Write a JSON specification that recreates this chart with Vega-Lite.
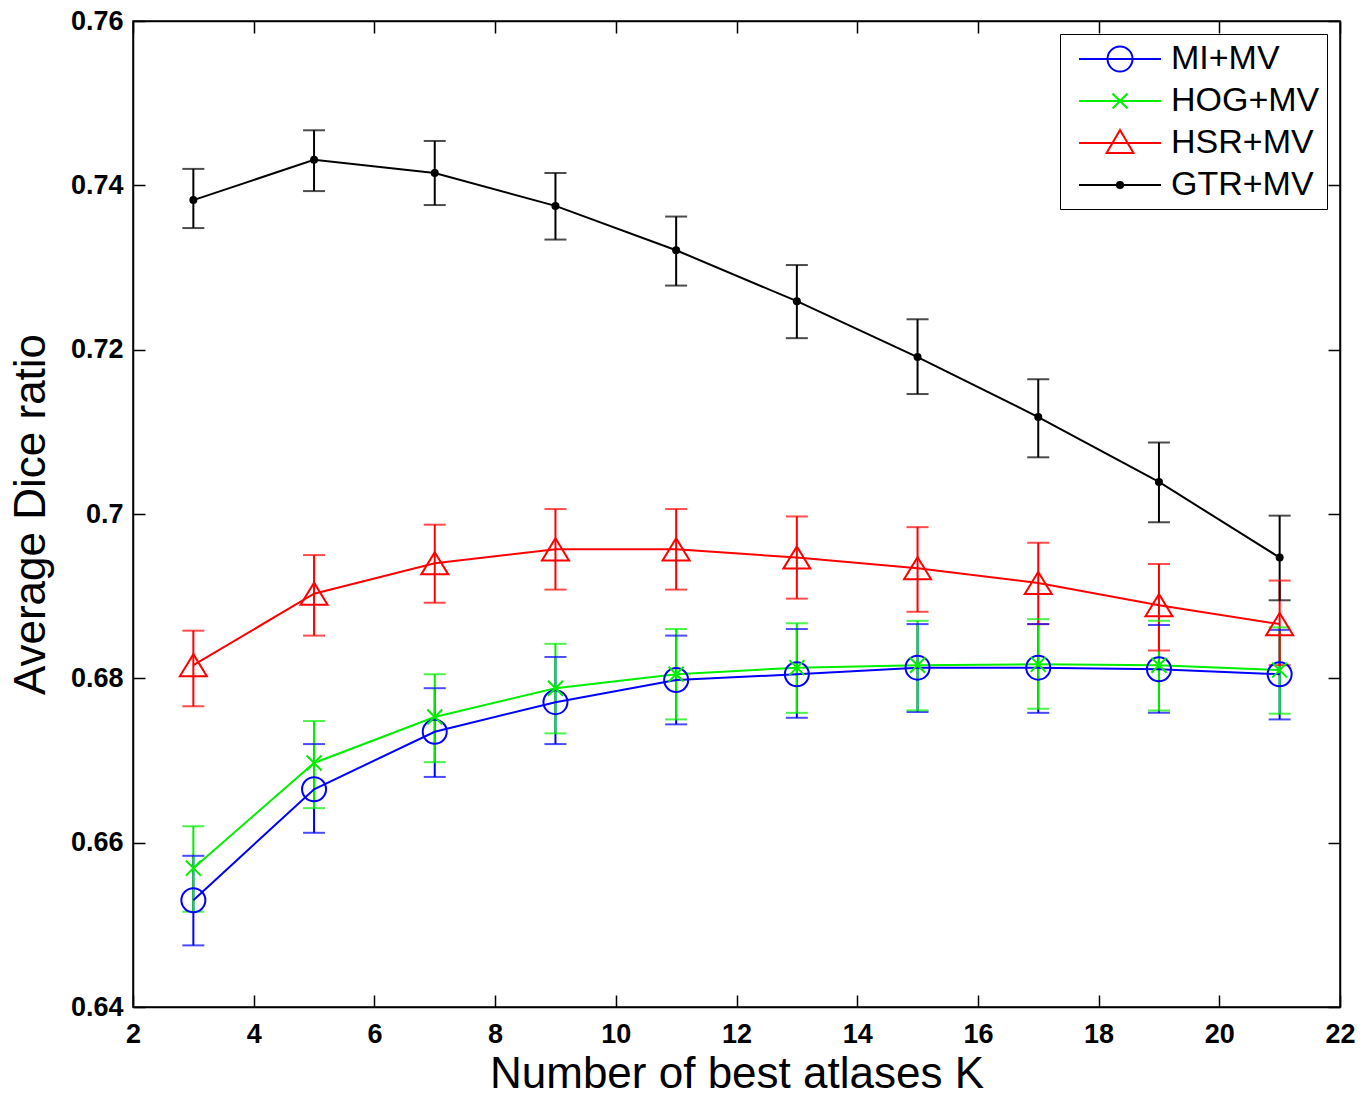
{
  "$schema": "https://vega.github.io/schema/vega-lite/v6.json",
  "width": 1207,
  "height": 986,
  "autosize": {"type": "none"},
  "padding": {"left": 133, "top": 21, "right": 32, "bottom": 89},
  "background": "white",
  "config": {
    "view": {"stroke": "#000", "strokeWidth": 1.5},
    "font": "Liberation Sans",
    "axis": {
      "grid": false,
      "domainColor": "#000",
      "domainWidth": 1.5,
      "tickColor": "#000",
      "tickWidth": 1.5,
      "tickSize": -12,
      "labelColor": "#000",
      "labelFont": "Liberation Sans",
      "labelFontSize": 27,
      "labelFontWeight": "bold",
      "labelFlush": false,
      "titleColor": "#000",
      "titleFont": "Liberation Sans",
      "titleFontSize": 44,
      "titleFontWeight": "normal"
    }
  },
  "data": {
    "values": [
      {"series": "MI+MV", "K": 3, "mean": 0.6530, "lo": 0.6475, "hi": 0.6584},
      {"series": "MI+MV", "K": 5, "mean": 0.6665, "lo": 0.6612, "hi": 0.6720},
      {"series": "MI+MV", "K": 7, "mean": 0.6735, "lo": 0.6680, "hi": 0.6788},
      {"series": "MI+MV", "K": 9, "mean": 0.6771, "lo": 0.6720, "hi": 0.6826},
      {"series": "MI+MV", "K": 11, "mean": 0.6798, "lo": 0.6744, "hi": 0.6852},
      {"series": "MI+MV", "K": 13, "mean": 0.6805, "lo": 0.6752, "hi": 0.6860},
      {"series": "MI+MV", "K": 15, "mean": 0.6813, "lo": 0.6759, "hi": 0.6866},
      {"series": "MI+MV", "K": 17, "mean": 0.6813, "lo": 0.6758, "hi": 0.6866},
      {"series": "MI+MV", "K": 19, "mean": 0.6811, "lo": 0.6758, "hi": 0.6865},
      {"series": "MI+MV", "K": 21, "mean": 0.6805, "lo": 0.6750, "hi": 0.6859},
      {"series": "HOG+MV", "K": 3, "mean": 0.6569, "lo": 0.6516, "hi": 0.6620},
      {"series": "HOG+MV", "K": 5, "mean": 0.6697, "lo": 0.6642, "hi": 0.6748},
      {"series": "HOG+MV", "K": 7, "mean": 0.6753, "lo": 0.6698, "hi": 0.6805},
      {"series": "HOG+MV", "K": 9, "mean": 0.6788, "lo": 0.6733, "hi": 0.6842},
      {"series": "HOG+MV", "K": 11, "mean": 0.6805, "lo": 0.6750, "hi": 0.6860},
      {"series": "HOG+MV", "K": 13, "mean": 0.6813, "lo": 0.6758, "hi": 0.6867},
      {"series": "HOG+MV", "K": 15, "mean": 0.6816, "lo": 0.6761, "hi": 0.6870},
      {"series": "HOG+MV", "K": 17, "mean": 0.6817, "lo": 0.6763, "hi": 0.6872},
      {"series": "HOG+MV", "K": 19, "mean": 0.6816, "lo": 0.6761, "hi": 0.6870},
      {"series": "HOG+MV", "K": 21, "mean": 0.6810, "lo": 0.6757, "hi": 0.6862},
      {"series": "HSR+MV", "K": 3, "mean": 0.6816, "lo": 0.6766, "hi": 0.6858},
      {"series": "HSR+MV", "K": 5, "mean": 0.6903, "lo": 0.6852, "hi": 0.6950},
      {"series": "HSR+MV", "K": 7, "mean": 0.6940, "lo": 0.6892, "hi": 0.6987},
      {"series": "HSR+MV", "K": 9, "mean": 0.6957, "lo": 0.6908, "hi": 0.7006},
      {"series": "HSR+MV", "K": 11, "mean": 0.6957, "lo": 0.6908, "hi": 0.7006},
      {"series": "HSR+MV", "K": 13, "mean": 0.6947, "lo": 0.6897, "hi": 0.6997},
      {"series": "HSR+MV", "K": 15, "mean": 0.6934, "lo": 0.6881, "hi": 0.6984},
      {"series": "HSR+MV", "K": 17, "mean": 0.6916, "lo": 0.6866, "hi": 0.6965},
      {"series": "HSR+MV", "K": 19, "mean": 0.6889, "lo": 0.6834, "hi": 0.6939},
      {"series": "HSR+MV", "K": 21, "mean": 0.6866, "lo": 0.6816, "hi": 0.6919},
      {"series": "GTR+MV", "K": 3, "mean": 0.7382, "lo": 0.7348, "hi": 0.7420},
      {"series": "GTR+MV", "K": 5, "mean": 0.7431, "lo": 0.7393, "hi": 0.7467},
      {"series": "GTR+MV", "K": 7, "mean": 0.7415, "lo": 0.7376, "hi": 0.7454},
      {"series": "GTR+MV", "K": 9, "mean": 0.7375, "lo": 0.7334, "hi": 0.7415},
      {"series": "GTR+MV", "K": 11, "mean": 0.7321, "lo": 0.7278, "hi": 0.7362},
      {"series": "GTR+MV", "K": 13, "mean": 0.7259, "lo": 0.7214, "hi": 0.7303},
      {"series": "GTR+MV", "K": 15, "mean": 0.7191, "lo": 0.7146, "hi": 0.7237},
      {"series": "GTR+MV", "K": 17, "mean": 0.7118, "lo": 0.7069, "hi": 0.7164},
      {"series": "GTR+MV", "K": 19, "mean": 0.7039, "lo": 0.6990, "hi": 0.7087},
      {"series": "GTR+MV", "K": 21, "mean": 0.6947, "lo": 0.6895, "hi": 0.6998}
    ]
  },
  "layer": [
    {
      "layer": [
        {
          "mark": {"type": "rule", "strokeWidth": 2},
          "encoding": {
            "x": {"field": "K", "type": "quantitative",
              "scale": {"domain": [2, 22], "nice": false, "zero": false},
              "axis": {"orient": "bottom", "values": [2, 4, 6, 8, 10, 12, 14, 16, 18, 20, 22], "format": "d", "labelPadding": 26, "title": "Number of best atlases K", "titlePadding": 5}},
            "y": {"field": "lo", "type": "quantitative",
              "scale": {"domain": [0.64, 0.76], "nice": false, "zero": false},
              "axis": {"orient": "left", "values": [0.64, 0.66, 0.68, 0.7, 0.72, 0.74, 0.76], "format": "~g", "labelPadding": 22, "title": "Average Dice ratio", "titlePadding": 17}},
            "y2": {"field": "hi"},
            "color": {"field": "series", "type": "nominal",
              "scale": {"domain": ["GTR+MV", "HSR+MV", "HOG+MV", "MI+MV"], "range": ["#000000", "#ff0000", "#00ee00", "#0000ff"]},
              "legend": null}
          }
        },
        {
          "mark": {"type": "tick", "orient": "horizontal", "size": 22, "thickness": 2},
          "encoding": {
            "x": {"field": "K", "type": "quantitative"},
            "y": {"field": "lo", "type": "quantitative"},
            "color": {"field": "series", "type": "nominal", "legend": null}
          }
        },
        {
          "mark": {"type": "tick", "orient": "horizontal", "size": 22, "thickness": 2},
          "encoding": {
            "x": {"field": "K", "type": "quantitative"},
            "y": {"field": "hi", "type": "quantitative"},
            "color": {"field": "series", "type": "nominal", "legend": null}
          }
        },
        {
          "mark": {"type": "line", "strokeWidth": 2},
          "encoding": {
            "x": {"field": "K", "type": "quantitative"},
            "y": {"field": "mean", "type": "quantitative"},
            "color": {"field": "series", "type": "nominal", "legend": null}
          }
        },
        {
          "transform": [{"filter": "datum.series === 'MI+MV'"}],
          "mark": {"type": "point", "shape": "M1,0A1,1 0 1 1 -1,0A1,1 0 1 1 1,0", "size": 576, "strokeWidth": 2, "filled": false, "opacity": 1},
          "encoding": {
            "x": {"field": "K", "type": "quantitative"},
            "y": {"field": "mean", "type": "quantitative"},
            "color": {"field": "series", "type": "nominal", "legend": null}
          }
        },
        {
          "transform": [{"filter": "datum.series === 'HOG+MV'"}],
          "mark": {"type": "point", "shape": "M-1,-1L1,1M-1,1L1,-1", "size": 225, "strokeWidth": 2, "filled": false, "opacity": 1},
          "encoding": {
            "x": {"field": "K", "type": "quantitative"},
            "y": {"field": "mean", "type": "quantitative"},
            "color": {"field": "series", "type": "nominal", "legend": null}
          }
        },
        {
          "transform": [{"filter": "datum.series === 'HSR+MV'"}],
          "mark": {"type": "point", "shape": "M0,-0.82L1,0.82L-1,0.82Z", "size": 729, "strokeWidth": 2, "filled": false, "opacity": 1},
          "encoding": {
            "x": {"field": "K", "type": "quantitative"},
            "y": {"field": "mean", "type": "quantitative"},
            "color": {"field": "series", "type": "nominal", "legend": null}
          }
        },
        {
          "transform": [{"filter": "datum.series === 'GTR+MV'"}],
          "mark": {"type": "point", "shape": "circle", "size": 64, "filled": true, "opacity": 1},
          "encoding": {
            "x": {"field": "K", "type": "quantitative"},
            "y": {"field": "mean", "type": "quantitative"},
            "color": {"field": "series", "type": "nominal", "legend": null}
          }
        }
      ]
    },
    {
      "mark": {"type": "point", "opacity": 0, "filled": false, "strokeWidth": 2},
      "encoding": {
        "x": {"field": "K", "type": "quantitative",
          "axis": {"orient": "top", "values": [2, 4, 6, 8, 10, 12, 14, 16, 18, 20, 22], "labels": false, "title": null}},
        "y": {"field": "mean", "type": "quantitative",
          "axis": {"orient": "right", "values": [0.64, 0.66, 0.68, 0.7, 0.72, 0.74, 0.76], "labels": false, "title": null}},
        "shape": {"field": "series", "type": "nominal",
          "scale": {"domain": ["MI+MV", "HOG+MV", "HSR+MV", "GTR+MV"],
            "range": [
              "M-0.35,0H4.47M2.795,0A0.735,0.735 0 1 1 1.325,0A0.735,0.735 0 1 1 2.795,0",
              "M-0.35,0H4.47M1.62,-0.44L2.5,0.44M1.62,0.44L2.5,-0.44",
              "M-0.35,0H4.47M2.06,-0.765L2.85,0.59L1.27,0.59Z",
              "M-0.35,0H4.47M2.24,0A0.18,0.18 0 1 1 1.88,0A0.18,0.18 0 1 1 2.24,0M2.12,0A0.06,0.06 0 1 1 2.0,0A0.06,0.06 0 1 1 2.12,0"
            ]},
          "legend": {
            "title": null,
            "orient": "top-right",
            "offset": 13,
            "padding": 7,
            "strokeColor": "#000",
            "fillColor": "white",
            "labelFont": "Liberation Sans",
            "labelFontSize": 34,
            "labelColor": "#000",
            "labelOffset": 68,
            "rowPadding": 7,
            "symbolSize": 1156,
            "symbolStrokeWidth": 2,
            "symbolOpacity": 1,
            "symbolFillColor": "transparent"
          }},
        "stroke": {"field": "series", "type": "nominal",
          "scale": {"domain": ["MI+MV", "HOG+MV", "HSR+MV", "GTR+MV"], "range": ["#0000ff", "#00ee00", "#ff0000", "#000000"]},
          "legend": {"title": null}}
      }
    }
  ],
  "resolve": {"axis": {"x": "independent", "y": "independent"}}
}
